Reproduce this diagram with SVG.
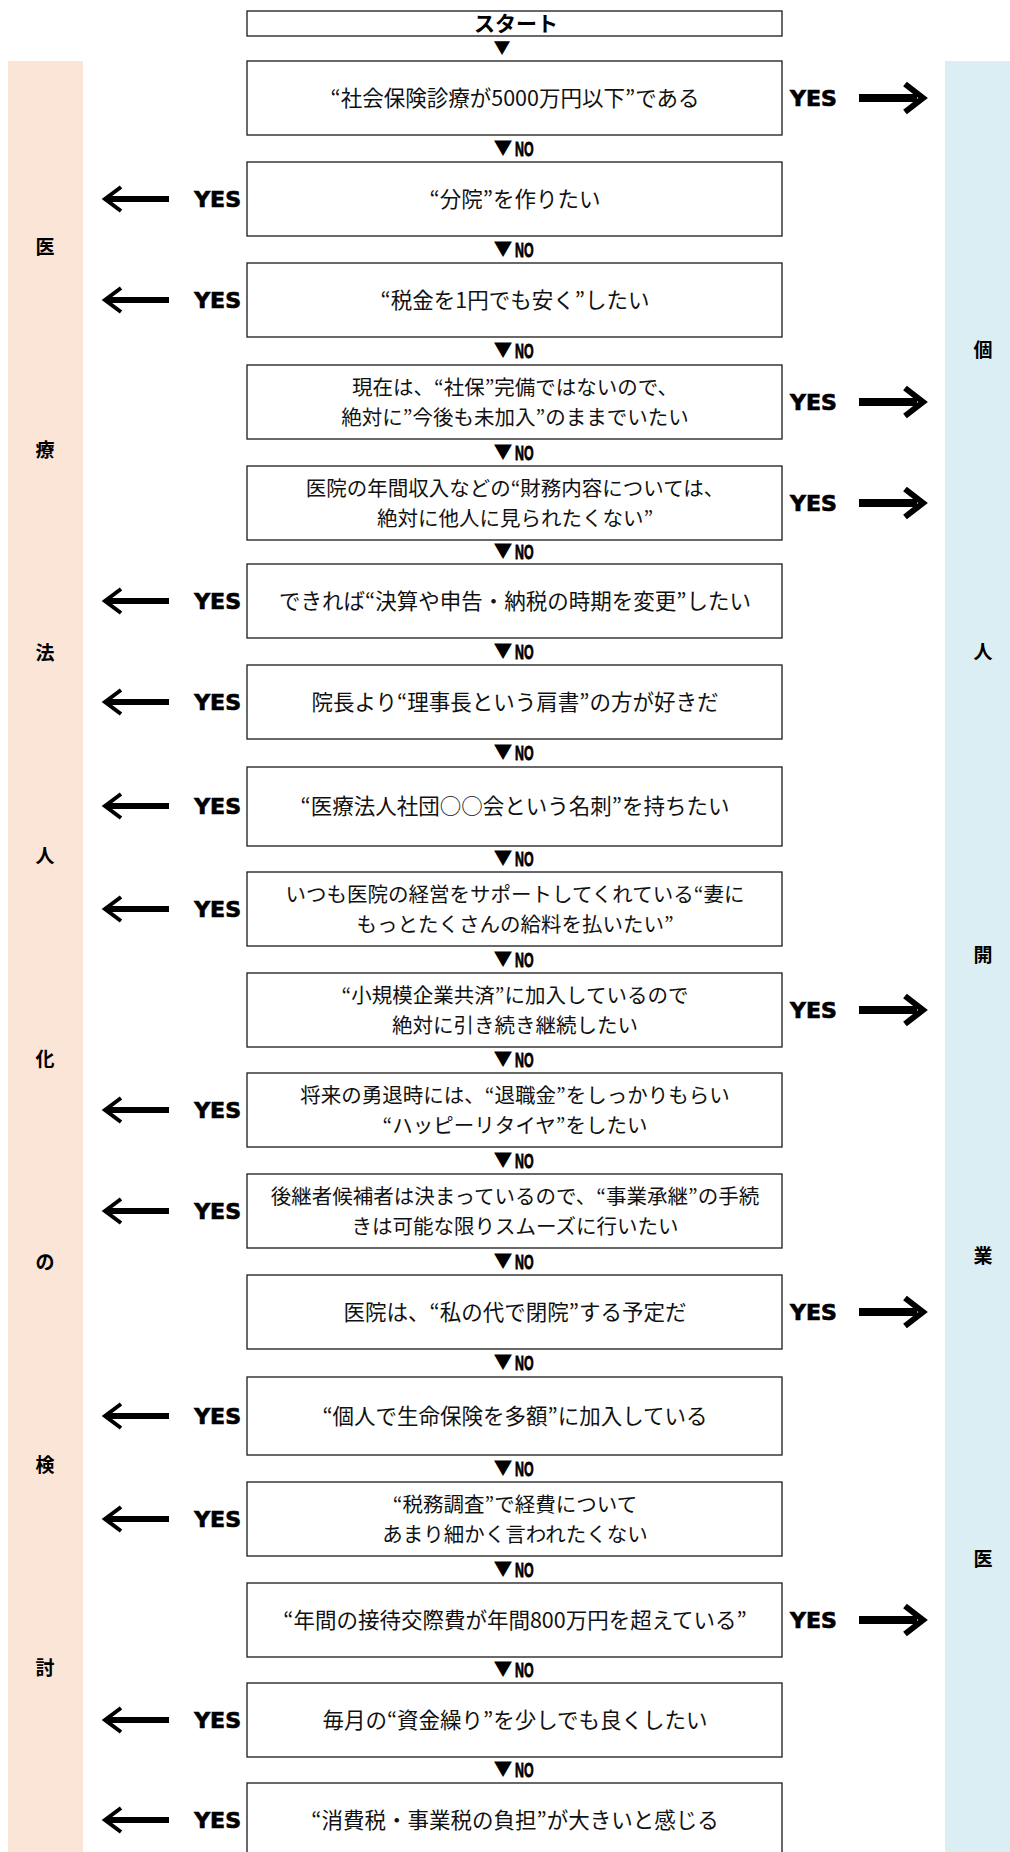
<svg xmlns="http://www.w3.org/2000/svg" width="1010" height="1852" viewBox="0 0 1010 1852">
<style>
  .box { fill: #ffffff; stroke: #1a1a1a; stroke-width: 1.3; }
  .t { font-family: "Noto Sans CJK JP", "Noto Sans CJK SC", sans-serif; font-size: 21.5px; fill: #111; text-anchor: middle; }
  .t2 { font-family: "Noto Sans CJK JP", "Noto Sans CJK SC", sans-serif; font-size: 20.5px; fill: #111; text-anchor: middle; }
  .st { font-family: "Noto Sans CJK JP", sans-serif; font-size: 21px; font-weight: bold; fill: #000; text-anchor: middle; }
  .yes { font-family: "DejaVu Sans", "Liberation Sans", sans-serif; font-size: 22px; font-weight: bold; fill: #000; stroke: #000; stroke-width: 0.7; }
  .tri { font-family: "Noto Sans CJK JP", "DejaVu Sans", sans-serif; font-size: 19px; fill: #000; text-anchor: middle; }
  .tri0 { font-family: "Noto Sans CJK JP", "DejaVu Sans", sans-serif; font-size: 17px; fill: #000; text-anchor: middle; }
  .no { font-family: "Liberation Sans", "DejaVu Sans", sans-serif; font-size: 20px; font-weight: bold; fill: #000; stroke: #000; stroke-width: 0.8; }
  .side { font-family: "Noto Sans CJK JP", sans-serif; font-size: 19px; font-weight: bold; fill: #000; text-anchor: middle; }
  .ar { stroke: #000; stroke-width: 8; fill: none; }
  .al { stroke: #000; stroke-width: 6; fill: none; }
</style>
<defs>
  <marker id="headR" markerUnits="userSpaceOnUse" markerWidth="26" markerHeight="34" viewBox="0 0 26 34" refX="15" refY="17" orient="auto" overflow="visible">
    <path d="M3,3 L21,17 L3,31" fill="none" stroke="#000" stroke-width="6"/>
  </marker>
  <marker id="headL" markerUnits="userSpaceOnUse" markerWidth="22" markerHeight="28" viewBox="0 0 22 28" refX="15" refY="14" orient="auto" overflow="visible">
    <path d="M2,2 L18,14 L2,26" fill="none" stroke="#000" stroke-width="4"/>
  </marker>
</defs>

<g id="panel-left">
  <rect x="8" y="61" width="75" height="1791" fill="#FBE5D6"/>
  <text class="side" x="45" y="254">医</text>
  <text class="side" x="45" y="457">療</text>
  <text class="side" x="45" y="660">法</text>
  <text class="side" x="45" y="863">人</text>
  <text class="side" x="45" y="1066">化</text>
  <text class="side" x="45" y="1269">の</text>
  <text class="side" x="45" y="1472">検</text>
  <text class="side" x="45" y="1675">討</text>
</g>
<g id="panel-right">
  <rect x="945" y="61" width="65" height="1791" fill="#DAEEF3"/>
  <text class="side" x="983" y="357">個</text>
  <text class="side" x="983" y="659">人</text>
  <text class="side" x="983" y="962">開</text>
  <text class="side" x="983" y="1263">業</text>
  <text class="side" x="983" y="1566">医</text>
</g>

<g id="start">
  <rect class="box" x="247" y="11" width="535" height="25"/>
  <text class="st" x="516" y="31">スタート</text>
</g>

<g id="q1"><rect class="box" x="247" y="61" width="535" height="74"/><text class="t" x="515" y="105.5">“社会保険診療が5000万円以下”である</text></g>
<g id="q2"><rect class="box" x="247" y="162" width="535" height="74"/><text class="t" x="515" y="206.5">“分院”を作りたい</text></g>
<g id="q3"><rect class="box" x="247" y="263" width="535" height="74"/><text class="t" x="515" y="307.5">“税金を1円でも安く”したい</text></g>
<g id="q4"><rect class="box" x="247" y="365" width="535" height="74"/><text class="t2" x="515" y="395">現在は、“社保”完備ではないので、</text><text class="t2" x="515" y="425">絶対に”今後も未加入”のままでいたい</text></g>
<g id="q5"><rect class="box" x="247" y="466" width="535" height="74"/><text class="t2" x="515" y="496">医院の年間収入などの“財務内容については、</text><text class="t2" x="515" y="526">絶対に他人に見られたくない”</text></g>
<g id="q6"><rect class="box" x="247" y="564" width="535" height="74"/><text class="t" x="515" y="608.5">できれば“決算や申告・納税の時期を変更”したい</text></g>
<g id="q7"><rect class="box" x="247" y="665" width="535" height="74"/><text class="t" x="515" y="709.5">院長より“理事長という肩書”の方が好きだ</text></g>
<g id="q8"><rect class="box" x="247" y="767" width="535" height="79"/><text class="t" x="515" y="814">“医療法人社団○○会という名刺”を持ちたい</text></g>
<g id="q9"><rect class="box" x="247" y="872" width="535" height="74"/><text class="t2" x="515" y="902">いつも医院の経営をサポートしてくれている“妻に</text><text class="t2" x="515" y="932">もっとたくさんの給料を払いたい”</text></g>
<g id="q10"><rect class="box" x="247" y="973" width="535" height="74"/><text class="t2" x="515" y="1003">“小規模企業共済”に加入しているので</text><text class="t2" x="515" y="1033">絶対に引き続き継続したい</text></g>
<g id="q11"><rect class="box" x="247" y="1073" width="535" height="74"/><text class="t2" x="515" y="1103">将来の勇退時には、“退職金”をしっかりもらい</text><text class="t2" x="515" y="1133">“ハッピーリタイヤ”をしたい</text></g>
<g id="q12"><rect class="box" x="247" y="1174" width="535" height="74"/><text class="t2" x="515" y="1204">後継者候補者は決まっているので、“事業承継”の手続</text><text class="t2" x="515" y="1234">きは可能な限りスムーズに行いたい</text></g>
<g id="q13"><rect class="box" x="247" y="1275" width="535" height="74"/><text class="t" x="515" y="1319.5">医院は、“私の代で閉院”する予定だ</text></g>
<g id="q14"><rect class="box" x="247" y="1377" width="535" height="78"/><text class="t" x="515" y="1423.5">“個人で生命保険を多額”に加入している</text></g>
<g id="q15"><rect class="box" x="247" y="1482" width="535" height="74"/><text class="t2" x="515" y="1512">“税務調査”で経費について</text><text class="t2" x="515" y="1542">あまり細かく言われたくない</text></g>
<g id="q16"><rect class="box" x="247" y="1583" width="535" height="74"/><text class="t" x="515" y="1627.5">“年間の接待交際費が年間800万円を超えている”</text></g>
<g id="q17"><rect class="box" x="247" y="1683" width="535" height="74"/><text class="t" x="515" y="1727.5">毎月の“資金繰り”を少しでも良くしたい</text></g>
<g id="q18"><rect class="box" x="247" y="1783" width="535" height="75"/><text class="t" x="515" y="1827.5">“消費税・事業税の負担”が大きいと感じる</text></g>

<g id="connectors">
  <text class="tri0" x="502" y="54">▼</text>
  <g id="no-labels">
    <text class="tri" x="503" y="155">▼</text><text class="no" transform="translate(515,156) scale(0.62,1)">NO</text>
    <text class="tri" x="503" y="256">▼</text><text class="no" transform="translate(515,257) scale(0.62,1)">NO</text>
    <text class="tri" x="503" y="357">▼</text><text class="no" transform="translate(515,358) scale(0.62,1)">NO</text>
    <text class="tri" x="503" y="459">▼</text><text class="no" transform="translate(515,460) scale(0.62,1)">NO</text>
    <text class="tri" x="503" y="558">▼</text><text class="no" transform="translate(515,559) scale(0.62,1)">NO</text>
    <text class="tri" x="503" y="658">▼</text><text class="no" transform="translate(515,659) scale(0.62,1)">NO</text>
    <text class="tri" x="503" y="759">▼</text><text class="no" transform="translate(515,760) scale(0.62,1)">NO</text>
    <text class="tri" x="503" y="865">▼</text><text class="no" transform="translate(515,866) scale(0.62,1)">NO</text>
    <text class="tri" x="503" y="966">▼</text><text class="no" transform="translate(515,967) scale(0.62,1)">NO</text>
    <text class="tri" x="503" y="1066">▼</text><text class="no" transform="translate(515,1067) scale(0.62,1)">NO</text>
    <text class="tri" x="503" y="1167">▼</text><text class="no" transform="translate(515,1168) scale(0.62,1)">NO</text>
    <text class="tri" x="503" y="1268">▼</text><text class="no" transform="translate(515,1269) scale(0.62,1)">NO</text>
    <text class="tri" x="503" y="1369">▼</text><text class="no" transform="translate(515,1370) scale(0.62,1)">NO</text>
    <text class="tri" x="503" y="1475">▼</text><text class="no" transform="translate(515,1476) scale(0.62,1)">NO</text>
    <text class="tri" x="503" y="1576">▼</text><text class="no" transform="translate(515,1577) scale(0.62,1)">NO</text>
    <text class="tri" x="503" y="1676">▼</text><text class="no" transform="translate(515,1677) scale(0.62,1)">NO</text>
    <text class="tri" x="503" y="1776">▼</text><text class="no" transform="translate(515,1777) scale(0.62,1)">NO</text>
  </g>
  <g id="yes-right">
    <text class="yes" x="790" y="106">YES</text><line class="ar" x1="859" y1="98" x2="917" y2="98" marker-end="url(#headR)"/>
    <text class="yes" x="790" y="410">YES</text><line class="ar" x1="859" y1="402" x2="917" y2="402" marker-end="url(#headR)"/>
    <text class="yes" x="790" y="511">YES</text><line class="ar" x1="859" y1="503" x2="917" y2="503" marker-end="url(#headR)"/>
    <text class="yes" x="790" y="1018">YES</text><line class="ar" x1="859" y1="1010" x2="917" y2="1010" marker-end="url(#headR)"/>
    <text class="yes" x="790" y="1320">YES</text><line class="ar" x1="859" y1="1312" x2="917" y2="1312" marker-end="url(#headR)"/>
    <text class="yes" x="790" y="1628">YES</text><line class="ar" x1="859" y1="1620" x2="917" y2="1620" marker-end="url(#headR)"/>
  </g>
  <g id="yes-left">
    <text class="yes" x="241" y="207" text-anchor="end">YES</text><line class="al" x1="169" y1="199" x2="108" y2="199" marker-end="url(#headL)"/>
    <text class="yes" x="241" y="308" text-anchor="end">YES</text><line class="al" x1="169" y1="300" x2="108" y2="300" marker-end="url(#headL)"/>
    <text class="yes" x="241" y="609" text-anchor="end">YES</text><line class="al" x1="169" y1="601" x2="108" y2="601" marker-end="url(#headL)"/>
    <text class="yes" x="241" y="710" text-anchor="end">YES</text><line class="al" x1="169" y1="702" x2="108" y2="702" marker-end="url(#headL)"/>
    <text class="yes" x="241" y="814" text-anchor="end">YES</text><line class="al" x1="169" y1="806" x2="108" y2="806" marker-end="url(#headL)"/>
    <text class="yes" x="241" y="917" text-anchor="end">YES</text><line class="al" x1="169" y1="909" x2="108" y2="909" marker-end="url(#headL)"/>
    <text class="yes" x="241" y="1118" text-anchor="end">YES</text><line class="al" x1="169" y1="1110" x2="108" y2="1110" marker-end="url(#headL)"/>
    <text class="yes" x="241" y="1219" text-anchor="end">YES</text><line class="al" x1="169" y1="1211" x2="108" y2="1211" marker-end="url(#headL)"/>
    <text class="yes" x="241" y="1424" text-anchor="end">YES</text><line class="al" x1="169" y1="1416" x2="108" y2="1416" marker-end="url(#headL)"/>
    <text class="yes" x="241" y="1527" text-anchor="end">YES</text><line class="al" x1="169" y1="1519" x2="108" y2="1519" marker-end="url(#headL)"/>
    <text class="yes" x="241" y="1728" text-anchor="end">YES</text><line class="al" x1="169" y1="1720" x2="108" y2="1720" marker-end="url(#headL)"/>
    <text class="yes" x="241" y="1828" text-anchor="end">YES</text><line class="al" x1="169" y1="1820" x2="108" y2="1820" marker-end="url(#headL)"/>
  </g>
</g>
</svg>
